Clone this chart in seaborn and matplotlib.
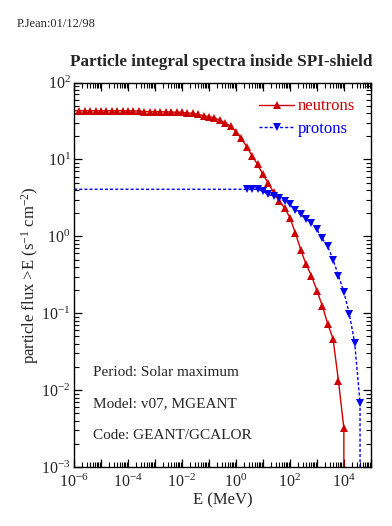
import numpy as np
import pandas as pd
import matplotlib
matplotlib.use("Agg")
import matplotlib.pyplot as plt
import matplotlib.ticker as mticker
import seaborn as sns

# Datos (log10 de la energia en MeV y flujo integral)
neutron_logE = [-6.0, -5.8, -5.6, -5.4, -5.2, -5.0, -4.8, -4.6, -4.4, -4.2,
                -4.0, -3.8, -3.6, -3.4, -3.2, -3.0, -2.8, -2.6, -2.4, -2.2,
                -2.0, -1.8, -1.6, -1.4, -1.2, -1.0, -0.8, -0.6, -0.4, -0.2,
                0.0, 0.2, 0.4, 0.6, 0.8, 1.0, 1.2, 1.4, 1.6, 1.8,
                2.0, 2.2, 2.4, 2.6, 2.8, 3.0, 3.2, 3.4, 3.6, 3.8,
                4.0, 4.2]
neutron_flux = [43.0, 43.0, 43.0, 43.0, 43.0, 43.0, 43.0, 43.0, 43.0, 43.0,
                43.0, 42.8, 42.5, 42.0, 42.0, 41.8, 41.8, 41.5, 41.5, 41.0,
                41.0, 40.3, 39.8, 38.6, 37.1, 36.0, 34.9, 32.3, 30.1, 27.0,
                23.0, 18.8, 14.6, 11.2, 8.63, 6.40, 4.89, 3.73, 2.87, 2.35,
                1.76, 1.11, 0.675, 0.431, 0.308, 0.197, 0.126, 0.0732, 0.0465, 0.0132,
                0.0032, 0.0]

proton_logE = [-6.0, 0.4, 0.6, 0.8, 1.0, 1.2, 1.4, 1.6, 1.8, 2.0,
               2.2, 2.4, 2.6, 2.8, 3.0, 3.2, 3.4, 3.6, 3.8, 4.0,
               4.2, 4.4, 4.6, 4.8]
proton_flux = [4.1, 4.1, 4.1, 4.1, 3.84, 3.51, 3.33, 3.12, 2.88, 2.61,
               2.20, 1.93, 1.68, 1.48, 1.23, 0.94, 0.74, 0.50, 0.308, 0.191,
               0.099, 0.0416, 0.0069, 0.0]

rojo = "#cc0000"
azul = "#0000ee"

sns.set_style("ticks")
plt.rcParams['font.family'] = ['Liberation Serif', 'DejaVu Serif']
plt.rcParams['mathtext.fontset'] = 'custom'
plt.rcParams['mathtext.rm'] = 'Liberation Serif'
plt.rcParams['mathtext.it'] = 'Liberation Serif:italic'
plt.rcParams['mathtext.bf'] = 'Liberation Serif:bold'

df_n = pd.DataFrame({'E': 10.0 ** np.array(neutron_logE), 'flux': neutron_flux})
df_p = pd.DataFrame({'E': 10.0 ** np.array(proton_logE), 'flux': proton_flux})

fig = plt.figure(figsize=(3.92, 5.26), dpi=100)
ax = fig.add_axes([0.189, 0.112, 0.757, 0.731])

sns.lineplot(data=df_n, x='E', y='flux', ax=ax, color=rojo, estimator=None,
             marker='^', markersize=6, markeredgewidth=0, linewidth=1.0,
             markevery=list(range(1, len(df_n))), label='neutrons')
sns.lineplot(data=df_p, x='E', y='flux', ax=ax, color=azul, estimator=None,
             marker='v', markersize=6, markeredgewidth=0, linewidth=1.0,
             linestyle=(0, (2.2, 1.5)),
             markevery=list(range(1, len(df_p))), label='protons')

ax.set_xscale('log')
ax.set_yscale('log')
ax.set_xlim(1e-6, 1e5)
ax.set_ylim(1e-3, 1e2)

ax.xaxis.set_major_locator(mticker.LogLocator(base=10, numticks=20))
ax.xaxis.set_minor_locator(mticker.LogLocator(base=10, subs=np.arange(2, 10), numticks=20))


def etiqueta_x(v, pos):
    e = int(round(np.log10(v)))
    if e % 2 == 0:
        return r'$10^{%d}$' % e
    return ''


ax.xaxis.set_major_formatter(mticker.FuncFormatter(etiqueta_x))
ax.yaxis.set_major_formatter(mticker.LogFormatterMathtext())

ax.tick_params(which='both', direction='in', top=True, right=True, labelsize=11.5,
               color='black')
ax.tick_params(which='major', length=6, width=0.9)
ax.tick_params(axis='x', which='major', pad=4.5)
ax.tick_params(axis='y', which='major', pad=2.5)
ax.tick_params(which='minor', length=3.5, width=0.8)
for s in ax.spines.values():
    s.set_linewidth(1.0)
    s.set_color('black')

ax.set_xlabel('E (MeV)', fontsize=12, labelpad=1)
ax.set_ylabel(r'particle flux >E (s$^{-1}$ cm$^{-2}$)', fontsize=12)
ax.yaxis.set_label_coords(-0.112, 0.5)

leg = ax.legend(loc='upper right', frameon=False, fontsize=12, labelcolor='linecolor',
                handlelength=2.1, handletextpad=0.2, borderaxespad=0.55, labelspacing=0.4)

ax.text(0.065, 0.238, 'Period: Solar maximum', transform=ax.transAxes, fontsize=11)
ax.text(0.065, 0.155, 'Model: v07, MGEANT', transform=ax.transAxes, fontsize=11)
ax.text(0.065, 0.072, 'Code: GEANT/GCALOR', transform=ax.transAxes, fontsize=11)

fig.text(0.564, 0.875, 'Particle integral spectra inside SPI-shield', ha='center',
         fontsize=12.3, fontweight='bold')
fig.text(0.043, 0.948, 'P.Jean:01/12/98', fontsize=9)

fig.savefig('out.png', dpi=100, facecolor='white')
